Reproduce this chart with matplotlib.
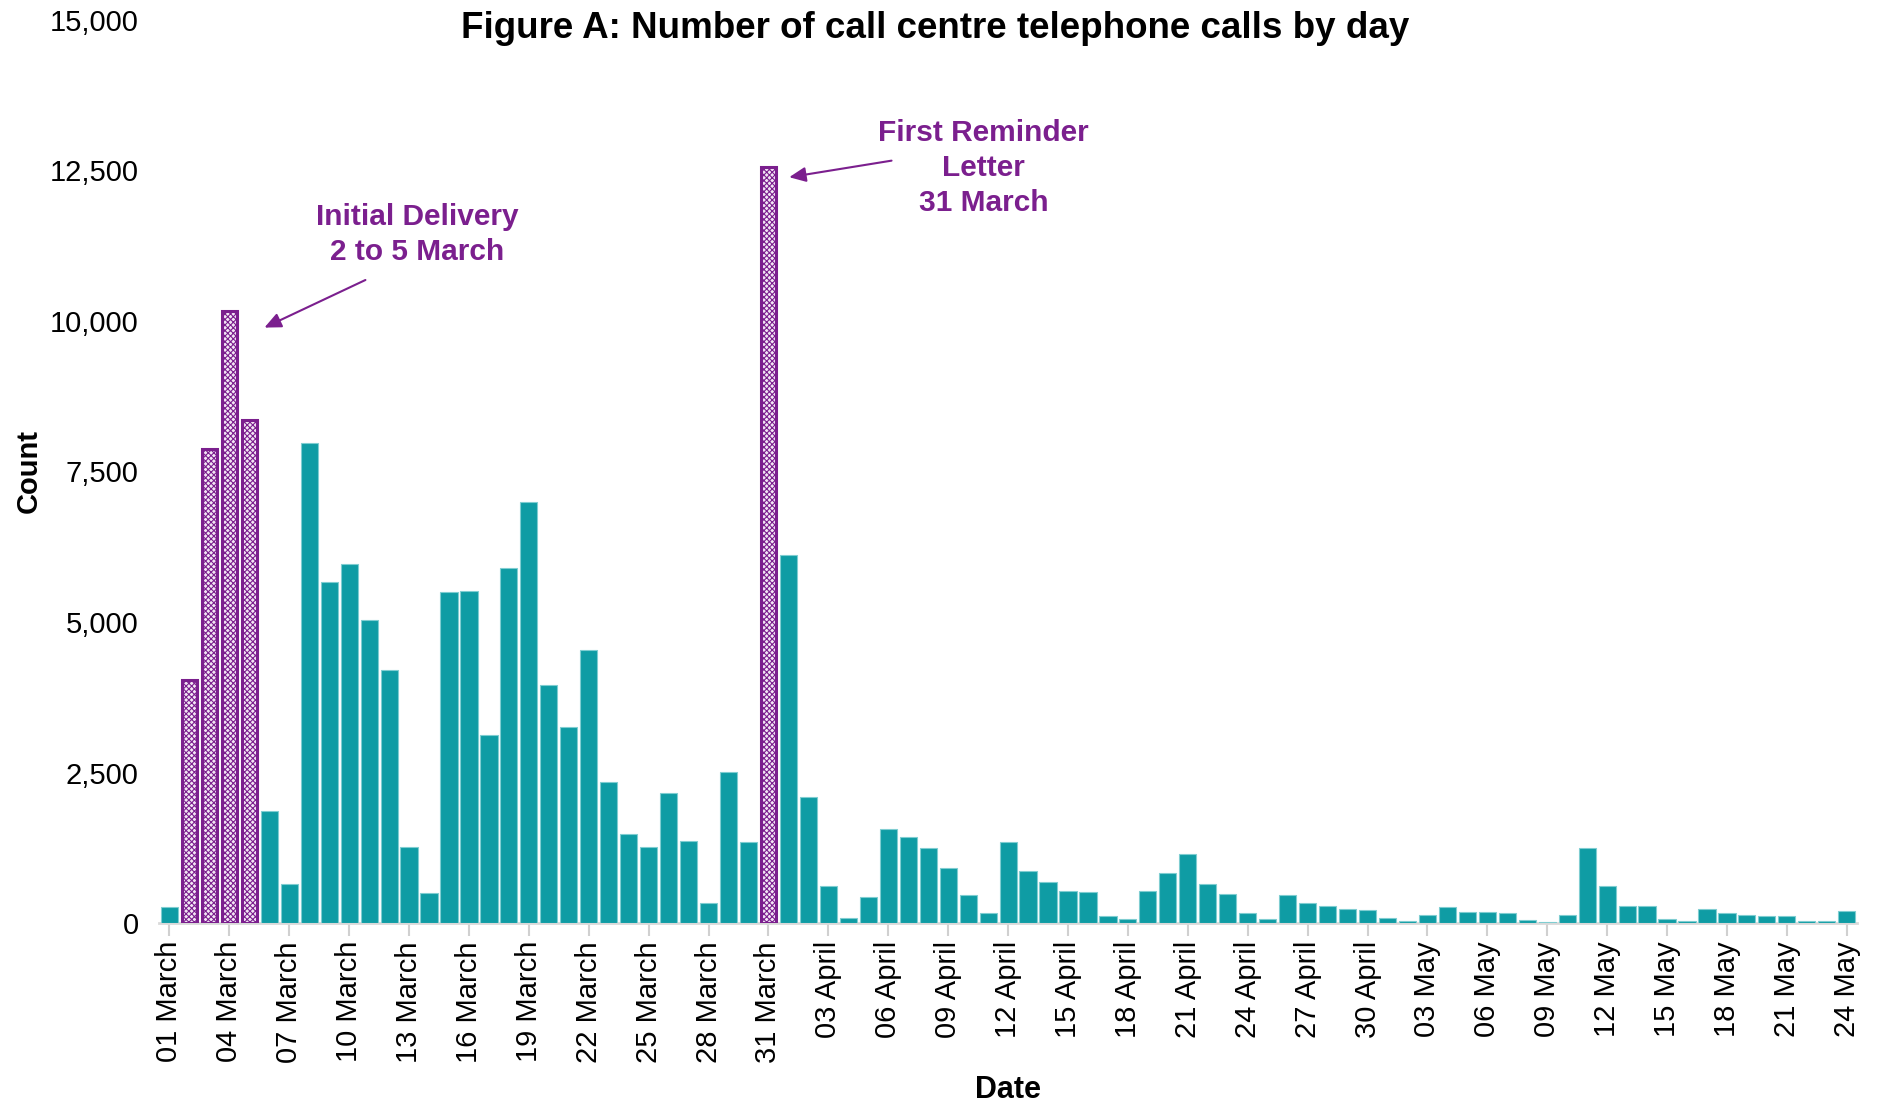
import matplotlib
matplotlib.use("Agg")
import matplotlib.pyplot as plt
import numpy as np
import pandas as pd

plt.rcParams['font.family'] = ['Liberation Sans', 'DejaVu Sans']
plt.rcParams['hatch.linewidth'] = 0.8

# ---- data ----
dates = pd.date_range("2020-03-01", "2020-05-24", freq="D")
calls = [
    # March 1-31
    260, 4030, 7880, 10160, 8350, 1860, 640, 7980, 5670, 5970, 5030, 4200, 1255, 500,
    5490, 5510, 3120, 5890, 6990, 3960, 3260, 4530, 2340, 1480, 1265, 2160, 1370, 340,
    2510, 1350, 12560,
    # April 1-30
    6120, 2090, 610, 90, 430, 1560, 1430, 1240, 910, 470, 160, 1340, 860, 680, 540, 520,
    110, 70, 540, 830, 1140, 650, 490, 170, 70, 470, 340, 290, 240, 215,
    # May 1-24
    85, 40, 140, 270, 190, 175, 160, 50, 20, 140, 1250, 620, 290, 280, 65, 40, 240, 160,
    140, 110, 110, 35, 35, 200,
]
highlight_days = ["2020-03-02", "2020-03-03", "2020-03-04", "2020-03-05", "2020-03-31"]
tick_step = 3

title = "Figure A: Number of call centre telephone calls by day"
ann1_text = "Initial Delivery\n2 to 5 March"
ann2_text = "First Reminder\nLetter\n31 March"

TEAL = "#0F9CA4"
PURPLE = "#7B1F8E"

labels = [d.strftime("%d %B") for d in dates]
hl = set(pd.to_datetime(highlight_days))
is_hl = [d in hl for d in dates]
x = np.arange(len(dates))

fig = plt.figure(figsize=(18.85, 11.07), dpi=100)
ax = fig.add_axes([0.0846, 0.1662, 0.9004, 0.8158])

normal_x = [i for i in x if not is_hl[i]]
normal_y = [calls[i] for i in x if not is_hl[i]]
hl_x = [i for i in x if is_hl[i]]
hl_y = [calls[i] for i in x if is_hl[i]]

ax.bar(normal_x, normal_y, width=0.86, color=TEAL, edgecolor="#7fcdd1", linewidth=0.8, zorder=3)
ax.bar(hl_x, hl_y, width=0.78, facecolor="#f3e6f5", edgecolor=PURPLE, linewidth=2.2,
       hatch="xxxxxx", zorder=3)

ax.set_xlim(-0.5, len(dates) - 0.5)
ax.set_ylim(0, 15000)
ax.set_yticks(np.arange(0, 15001, 2500))
ax.yaxis.set_major_formatter(matplotlib.ticker.FuncFormatter(lambda v, p: f"{int(v):,}"))
ax.tick_params(axis="y", length=0, labelsize=21, pad=15)

ticks = x[::tick_step]
ax.set_xticks(ticks)
ax.set_xticklabels([labels[i] for i in ticks], rotation=90, fontsize=21)
ax.tick_params(axis="x", length=9, width=1.5, color="#d0d0d0", labelsize=21, pad=4)

for s in ["top", "right", "left"]:
    ax.spines[s].set_visible(False)
ax.spines["bottom"].set_color("#d9d9d9")
ax.spines["bottom"].set_linewidth(2)

ax.set_ylabel("Count", fontsize=21, fontweight="bold", labelpad=5)
ax.set_xlabel("Date", fontsize=22, fontweight="bold", labelpad=9)
fig.text(0.496, 0.974, title, ha="center", va="center", fontsize=26.5, fontweight="bold")

ax.annotate("", xy=(4.63, 9870), xytext=(9.94, 10700),
            arrowprops=dict(arrowstyle="-|>,head_length=1.0,head_width=0.45", color=PURPLE, lw=1.5))
ax.text(12.4, 11440, ann1_text, ha="center", va="center", fontsize=21.5, fontweight="bold",
        color=PURPLE, linespacing=1.3)
ax.annotate("", xy=(30.9, 12380), xytext=(36.3, 12670),
            arrowprops=dict(arrowstyle="-|>,head_length=1.0,head_width=0.45", color=PURPLE, lw=1.5))
ax.text(40.76, 12540, ann2_text, ha="center", va="center", fontsize=21.5, fontweight="bold",
        color=PURPLE, linespacing=1.3)

fig.savefig("out.png", dpi=100)
